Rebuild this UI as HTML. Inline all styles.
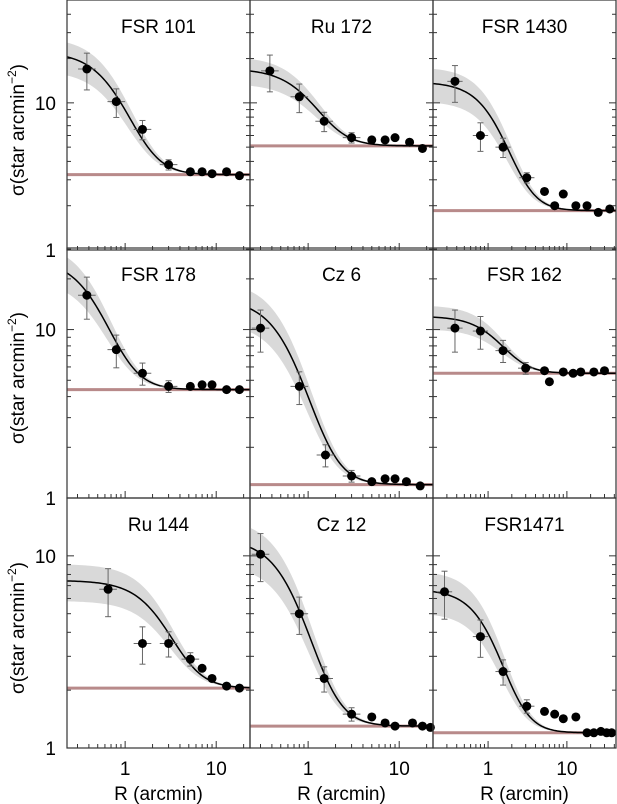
<!DOCTYPE html>
<html><head><meta charset="utf-8"><style>
body{margin:0;background:#fff}
svg{display:block;font-family:"Liberation Sans",sans-serif}
</style></head><body>
<svg id="c" width="617" height="804"></svg>
<script>
const titles=["FSR 101","Ru 172","FSR 1430","FSR 178","Cz 6","FSR 162","Ru 144","Cz 12","FSR1471"];
const radii=[
[0.38,0.8,1.55,3.0,5.2,7,9,13,18],
[0.38,0.8,1.5,3,5,7,9,13,18],
[0.38,0.8,1.55,3.1,5.2,7,9,13,18,25,35],
[0.38,0.8,1.55,3,5.2,7,9,13,18],
[0.3,0.8,1.55,3,5,7,9,12,17],
[0.38,0.8,1.55,3,5.2,6,9,12,15,22,30],
[0.65,1.55,3,5.2,7,9,13,18],
[0.3,0.8,1.5,3,5,7,9,14,18,22],
[0.28,0.8,1.55,3.1,5.2,7,9,13,18,22,27,32,37]];
const densities=[
[17,10.2,6.6,3.8,3.4,3.4,3.3,3.4,3.2],
[16.5,11,7.5,5.8,5.6,5.6,5.8,5.4,4.9],
[14,6,5,3.1,2.5,2.0,2.4,2.0,2.0,1.8,1.9],
[16,7.6,5.5,4.6,4.6,4.7,4.7,4.4,4.4],
[10.2,4.6,1.8,1.35,1.25,1.3,1.3,1.25,1.18],
[10.2,9.8,7.5,5.9,5.7,4.9,5.6,5.5,5.6,5.6,5.7],
[6.7,3.5,3.5,2.9,2.6,2.3,2.1,2.05],
[10.2,5.0,2.3,1.5,1.45,1.35,1.3,1.35,1.3,1.28],
[6.5,3.8,2.5,1.65,1.55,1.5,1.42,1.45,1.2,1.2,1.22,1.2,1.2]];
const relErr=[0.28,0.22,0.15,0.08,0.06,0.05,0.05,0.05,0.04,0.04,0.04,0.04,0.04];
const backgrounds=[3.25,5.1,1.85,4.4,1.2,5.5,2.05,1.3,1.2];
const cores=[19,12,12,22,14,6.5,5.4,11,5.5];
const coreRadii=[0.9,1.2,1.45,0.55,0.72,1.6,3.0,0.8,1.3];
const xTicks=[1,10];
const rowYMax=[50,30.5,20];
const yTickLabels=["1","10"];

const NS="http://www.w3.org/2000/svg",svg=document.getElementById('c');
function el(t,a,p){const e=document.createElementNS(NS,t);for(const k in a)e.setAttribute(k,a[k]);(p||svg).appendChild(e);return e;}
const colX=[[67,250,0.23,23.5],[250,433,0.23,23.5],[433,616,0.2,42]];
const rowY=[[0,250],[248,498],[498,748]];
for(let i=0;i<9;i++){
 const r=Math.floor(i/3),c=i%3;
 const [x0,x1,xmin,xmax]=colX[c],[y0,y1]=rowY[r],ymax=rowYMax[r];
 const X=v=>x0+(Math.log10(v)-Math.log10(xmin))/(Math.log10(xmax)-Math.log10(xmin))*(x1-x0);
 const Y=v=>y1-Math.log10(v)/Math.log10(ymax)*(y1-y0);
 const g=el('g',{});
 
 
 const core=R=>cores[i]*Math.pow(1+Math.pow(R/coreRadii[i],2),-1.5);
 const model=R=>backgrounds[i]+core(R);
 let up=[],lo=[];
 for(let k=0;k<=80;k++){const R=xmin*Math.pow(xmax/xmin,k/80);const m=model(R),d=core(R);up.push(X(R)+','+Y(m+0.3*d));lo.unshift(X(R)+','+Y(Math.max(backgrounds[i]+0.01,m-0.3*d)));}
 const band=el('polygon',{points:up.concat(lo).join(' '),fill:'#d9d9d9'},g);
 
 
 const bg=el('line',{x1:x0,x2:x1,y1:Y(backgrounds[i]),y2:Y(backgrounds[i]),stroke:'#b88a8a','stroke-width':3},g);
 
 
 let pts=[];for(let k=0;k<=100;k++){const R=xmin*Math.pow(xmax/xmin,k/100);pts.push(X(R)+','+Y(model(R)));}
 const fit=el('polyline',{points:pts.join(' '),fill:'none',stroke:'#000','stroke-width':1.5},g);
 
 
 radii[i].forEach((R,j)=>{
  const v=densities[i][j],e=relErr[j]*v,px=X(R),py=Y(v);
  if(j<4){el('line',{x1:px,x2:px,y1:Y(v+e),y2:Y(v-e),stroke:'#666','stroke-width':1},g);
   el('line',{x1:px-3,x2:px+3,y1:Y(v+e),y2:Y(v+e),stroke:'#666','stroke-width':1},g);
   el('line',{x1:px-3,x2:px+3,y1:Y(v-e),y2:Y(v-e),stroke:'#666','stroke-width':1},g);
   el('line',{x1:X(R*0.8),x2:X(R*1.25),y1:py,y2:py,stroke:'#666','stroke-width':1},g);}
  const d=el('circle',{cx:px,cy:py,r:4.5,fill:'#000'},g);
  
  
 });
 el('rect',{x:x0,y:y0,width:x1-x0,height:y1-y0,fill:'none',stroke:'#333','stroke-width':1.2},g);
 for(let dec=-1;dec<2;dec++)for(let m=1;m<10;m++){const v=m*Math.pow(10,dec);if(v<xmin||v>xmax)continue;const L=m==1?7:4;
  el('line',{x1:X(v),x2:X(v),y1:y1,y2:y1-L,stroke:'#333'},g);}
 for(let dec=0;dec<2;dec++)for(let m=1;m<10;m++){const v=m*Math.pow(10,dec);if(v<=1||v>=ymax)continue;const L=m==1?7:4;
  el('line',{x1:x0,x2:x0+L,y1:Y(v),y2:Y(v),stroke:'#333'},g);el('line',{x1:x1,x2:x1-L,y1:Y(v),y2:Y(v),stroke:'#333'},g);}
 const t=el('text',{x:(x0+x1)/2,y:y0+33,'text-anchor':'middle','font-size':19},g);t.textContent=titles[i];
 
 
 if(c==0){
  yTickLabels.forEach((s,k)=>{const tl=el('text',{x:56,y:Y(Math.pow(10,k))+7,'text-anchor':'end','font-size':19},g);tl.textContent=s;
   
   });
  const yc=(y0+y1)/2;
  const yt=el('text',{x:0,y:0,transform:`translate(24,${yc+5}) rotate(-90)`,'text-anchor':'middle','font-size':19},g);
  yt.innerHTML='σ(star arcmin<tspan dy="-8" font-size="12">−2</tspan><tspan dy="8">)</tspan>';
  
  
 }
 if(r==2){
  xTicks.forEach(v=>{const tl=el('text',{x:X(v),y:775,'text-anchor':'middle','font-size':19},g);tl.textContent=v;
   
   });
  const xt=el('text',{x:(x0+x1)/2,y:800,'text-anchor':'middle','font-size':19},g);xt.textContent='R (arcmin)';
  
  
 }
}
</script></body></html>
